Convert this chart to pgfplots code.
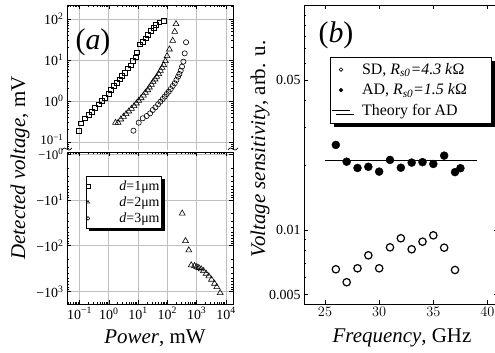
\documentclass[border=0pt]{standalone}
\usepackage{fontspec}
\setmainfont{Liberation Serif}
\usepackage{pgfplots}
\usepackage{pgfplotstable}
\pgfplotsset{compat=1.18}
\usetikzlibrary{shadows}

\pgfplotstableread{
P V
0.0925 0.189
0.114 0.285
0.152 0.378
0.203 0.456
0.263 0.550
0.342 0.687
0.456 0.830
0.593 1.00
0.750 1.205
0.975 1.48
1.20 1.85
1.48 2.32
1.87 2.80
2.31 3.37
2.85 4.07
3.51 4.91
4.33 6.27
5.48 7.41
6.58 9.46
8.30 11.6
9.30 15.4
11.1 24.1
14.4 28.0
17.8 33.7
21.9 40.7
27.7 51.9
34.2 60.3
41.1 71.4
53.3 83.0
73.1 91.0
}\sqdata

\pgfplotstableread{
P V
1.69 0.296
2.08 0.296
2.57 0.357
3.16 0.415
3.90 0.482
4.81 0.560
5.93 0.650
7.31 0.755
8.77 0.877
10.5 1.02
12.7 1.18
15.2 1.37
17.8 1.60
21.4 1.85
24.3 2.15
28.5 2.50
32.5 2.96
38.0 3.37
43.3 3.92
50.6 4.56
57.7 5.49
65.8 6.50
75.0 7.55
85.5 9.46
97.4 12.5
117 18.2
152 29.6
178 49.1
197 75.5
}\tridata

\pgfplotstableread{
P V
6.93 0.189
10.5 0.296
14.4 0.378
19.7 0.431
25.7 0.500
31.6 0.603
39.0 0.701
48.1 0.830
57.7 0.963
69.3 1.12
81.1 1.28
94.9 1.48
111 1.69
130 1.96
152 2.32
178 2.70
203 3.25
231 3.92
256 4.56
285 5.49
316 6.88
351 9.11
390 14.5
433 27.0
}\cirdata

\pgfplotstableread{
P V
320 19.7
415 78.2
537 125
649 265
841 275
1007 289
1180 302
1425 324
1707 353
2108 403
2590 461
3200 545
4052 665
4856 789
6339 1067
}\trineg

\pgfplotstableread{
f s
26 0.0249
27 0.0208
28 0.01945
29 0.0197
30 0.0187
31 0.0212
32 0.0195
33 0.0206
34 0.0207
35 0.0203
36 0.0222
37 0.0186
37.5 0.0194
}\addata

\pgfplotstableread{
f s
26 0.00656
27 0.00571
28 0.00663
29 0.00762
30 0.00663
31 0.0083
32 0.00915
33 0.00813
34 0.00882
35 0.00944
36 0.00827
37 0.00651
}\sddata

\pgfplotsset{
  every axis/.append style={
    scale only axis,
    tick align=inside,
    major tick length=4bp,
    minor tick length=2bp,
    axis line style={line width=0.8bp},
    every tick/.style={line width=0.6bp, black},
    tick label style={font=\fontsize{14}{16}\selectfont},
  },
  markleg/.style={legend image code/.code={%
    \node[draw=none, fill=none, inner sep=0pt, minimum width=#1, minimum height=1pt] at (0.5*#1,0bp) {};%
    \draw[##1, draw=none] plot[only marks, mark size=1.8bp, mark options={line width=0.6bp}] coordinates {(0.53*#1,0bp)};}},
  lineleg/.style={legend image code/.code={\draw[##1] (1bp,0bp) -- (19bp,0bp);}},
}

\begin{document}
\begin{tikzpicture}
\useasboundingbox (0,0) rectangle (495bp,353bp);

% ---------- panel (a), top (positive) ----------
\begin{axis}[
  at={(67bp,203bp)}, anchor=south west,
  width=166bp, height=145bp,
  xmode=log, ymode=log,
  xmin=0.0374, xmax=17340, ymin=0.0638, ymax=219,
  axis x line*=top, axis y line*=box,
  grid=major, major grid style={gray!50, line width=0.7bp},
  xtick={0.1,1,10,100,1000,10000}, xticklabels={},
  minor xtick={0.04,0.05,0.06,0.07,0.08,0.09,0.2,0.3,0.4,0.5,0.6,0.7,0.8,0.9,2,3,4,5,6,7,8,9,20,30,40,50,60,70,80,90,200,300,400,500,600,700,800,900,2000,3000,4000,5000,6000,7000,8000,9000},
  ytick={0.1,1,10,100},
  yticklabels={\raisebox{5bp}{\fontsize{13}{14}\selectfont 10\textsuperscript{−1}},10\textsuperscript{0},10\textsuperscript{1},10\textsuperscript{2}},
  minor ytick={0.07,0.08,0.09,0.2,0.3,0.4,0.5,0.6,0.7,0.8,0.9,2,3,4,5,6,7,8,9,20,30,40,50,60,70,80,90,200},
  clip=false,
]
\addplot[only marks, mark=square, mark size=2.4bp, line width=0.6bp] table[x=P,y=V]{\sqdata};
\addplot[only marks, mark=triangle, mark size=3.4bp, line width=0.6bp] table[x=P,y=V]{\tridata};
\addplot[only marks, mark=o, mark size=2.6bp, line width=0.6bp] table[x=P,y=V]{\cirdata};
\end{axis}

% ---------- panel (a), bottom (negative) ----------
\begin{axis}[
  at={(67bp,49bp)}, anchor=south west,
  width=166bp, height=152bp,
  xmode=log, ymode=log, y dir=reverse,
  xmin=0.0374, xmax=17340, ymin=0.904, ymax=1860,
  grid=major, major grid style={gray!50, line width=0.7bp},
  xtick={0.1,1,10,100,1000,10000},
  xticklabels={10\textsuperscript{−1},10\textsuperscript{0},10\textsuperscript{1},10\textsuperscript{2},10\textsuperscript{3},10\textsuperscript{4}},
  minor xtick={0.04,0.05,0.06,0.07,0.08,0.09,0.2,0.3,0.4,0.5,0.6,0.7,0.8,0.9,2,3,4,5,6,7,8,9,20,30,40,50,60,70,80,90,200,300,400,500,600,700,800,900,2000,3000,4000,5000,6000,7000,8000,9000},
  ytick={1,10,100,1000},
  yticklabels={\raisebox{-4bp}{\fontsize{13}{14}\selectfont −10\textsuperscript{0}},−10\textsuperscript{1},−10\textsuperscript{2},−10\textsuperscript{3}},
  minor ytick={2,3,4,5,6,7,8,9,20,30,40,50,60,70,80,90,200,300,400,500,600,700,800,900},
  legend cell align=left,
  legend style={at={(0.114,0.841)}, anchor=north west, draw=black, line width=0.6bp,
    fill=white, font=\fontsize{14}{15}\selectfont, inner xsep=0bp, inner ysep=2bp, row sep=1bp,
    drop shadow={shadow xshift=3bp, shadow yshift=-3bp, fill=black, opacity=1}},
  markleg=30bp,
]
\addlegendimage{mark=square}
\addlegendentry{\textit{d}=1μm}
\addplot[only marks, mark=triangle, mark size=3.4bp, line width=0.6bp] table[x=P,y=V]{\trineg};
\addlegendentry{\textit{d}=2μm}
\addlegendimage{mark=o}
\addlegendentry{\textit{d}=3μm}
\end{axis}

% break marks
\draw[line width=0.7bp] (62bp,203bp) .. controls (66bp,209bp) and (67bp,199bp) .. (72bp,205bp);
\draw[line width=0.7bp] (228bp,203bp) .. controls (232bp,209bp) and (233bp,199bp) .. (238bp,205bp);

% ---------- panel (b) ----------
\begin{axis}[
  at={(304bp,49bp)}, anchor=south west,
  width=194bp, height=299bp,
  ymode=log,
  xmin=23.06, xmax=40.97, ymin=0.00452, ymax=0.1117,
  xtick={25,30,35,40},
  ytick={0.005,0.01,0.05}, yticklabels={0.005,0.01,0.05},
  minor ytick={0.006,0.007,0.008,0.009,0.02,0.03,0.04,0.06,0.07,0.08,0.09,0.1},
  legend cell align=left,
  legend style={at={(0.134,0.826)}, anchor=north west, draw=black, line width=0.6bp,
    fill=white, font=\fontsize{16}{18}\selectfont, inner xsep=1bp, inner ysep=4bp, row sep=4bp,
    drop shadow={shadow xshift=4bp, shadow yshift=-4bp, fill=black, opacity=1}},
  markleg=19bp,
]
\addplot[only marks, mark=o, mark size=3.7bp, line width=1.2bp] table[x=f,y=s]{\sddata};
\addlegendentry{SD, \textit{R}\textsubscript{\textit{s0}}\textit{=4.3 k}Ω\hspace*{24bp}}
\addplot[only marks, mark=*, mark size=4bp] table[x=f,y=s]{\addata};
\addlegendentry{AD, \textit{R}\textsubscript{\textit{s0}}\textit{=1.5 k}Ω}
\addplot[line width=1.3bp, black, lineleg] coordinates {(25,0.0210) (39,0.0210)};
\addlegendentry{Theory for AD}
\end{axis}

% labels
\node[font=\fontsize{30}{32}\selectfont] at (93bp,311bp) {(\textit{a})};
\node[font=\fontsize{30}{32}\selectfont] at (336bp,318bp) {(\textit{b})};
\node[font=\fontsize{21}{24}\selectfont] at (155bp,15bp) {\textit{Power}, mW};
\node[font=\fontsize{21}{24}\selectfont] at (402bp,15bp) {\textit{Frequency}, GHz};
\node[font=\fontsize{21}{24}\selectfont, rotate=90] at (20bp,185bp) {\textit{Detected voltage}, mV};
\node[font=\fontsize{21}{24}\selectfont, rotate=90] at (260bp,204bp) {\textit{Voltage sensitivity}, arb. u.};
\end{tikzpicture}
\end{document}
